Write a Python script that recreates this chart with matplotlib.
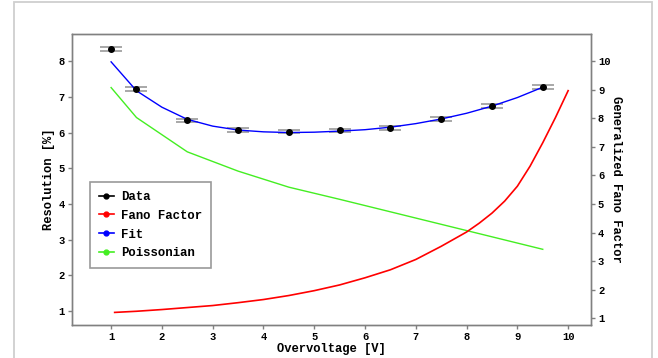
import numpy as np
import matplotlib
matplotlib.use("Agg")
import matplotlib.pyplot as plt
from matplotlib.lines import Line2D
from matplotlib.patches import Rectangle

# measured points
data_x = [1.0, 1.5, 2.5, 3.5, 4.5, 5.5, 6.5, 7.5, 8.5, 9.5]
data_y = [8.33, 7.22, 6.34, 6.07, 6.02, 6.06, 6.13, 6.38, 6.74, 7.28]
data_err = [0.055, 0.055, 0.05, 0.05, 0.04, 0.045, 0.045, 0.05, 0.05, 0.055]

# fit curve
fit_x = [1.0, 1.5, 2.0, 2.5, 3.0, 3.5, 4.0, 4.5, 5.0, 5.5, 6.0, 6.5, 7.0, 7.5, 8.0, 8.5, 9.0, 9.5]
fit_y = [7.98, 7.17, 6.71, 6.37, 6.18, 6.07, 6.02, 6.00, 6.01, 6.04, 6.08, 6.15, 6.25, 6.38, 6.54, 6.74, 6.98, 7.27]

# poissonian expectation
pois_x = [1.0, 1.5, 2.5, 3.5, 4.5, 5.5, 6.5, 7.5, 8.5, 9.5]
pois_y = [7.26, 6.42, 5.46, 4.92, 4.47, 4.13, 3.78, 3.43, 3.08, 2.73]

# generalized fano factor (right axis)
fano_x = [1.07, 1.5, 2.0, 2.5, 3.0, 3.5, 4.0, 4.5, 5.0, 5.5, 6.0, 6.5, 7.0, 7.5,
          8.0, 8.25, 8.5, 8.75, 9.0, 9.25, 9.5, 9.75, 10.0]
fano_y = [1.21, 1.25, 1.31, 1.38, 1.45, 1.55, 1.66, 1.80, 1.97, 2.17, 2.42, 2.70,
          3.06, 3.52, 4.02, 4.33, 4.68, 5.10, 5.62, 6.32, 7.14, 8.02, 8.96]

plt.rcParams['font.family'] = ['Liberation Mono', 'DejaVu Sans Mono']
plt.rcParams['font.weight'] = 'bold'
plt.rcParams['axes.labelweight'] = 'bold'

spine_col = '#808080'

fig = plt.figure(figsize=(6.58, 3.58), dpi=100)
ax = fig.add_axes([72 / 658, 1 - 325 / 358, 519 / 658, 291 / 358])
ax2 = ax.twinx()

ax.errorbar(data_x, data_y, yerr=data_err, fmt='none', ecolor='#9a9a9a',
            elinewidth=1.2, capsize=8, capthick=1.2, zorder=2)
ax.plot(fit_x, fit_y, color='blue', lw=1.0, zorder=3)
ax.plot(pois_x, pois_y, color='#44ee22', lw=1.0, zorder=3)
ax.plot(data_x, data_y, 'o', color='black', ms=4, zorder=4)
ax2.plot(fano_x, fano_y, color='red', lw=1.2)

ax.set_xlim(0.23, 10.45)
ax.set_ylim(0.61, 8.76)
ax2.set_ylim(0.77, 10.94)
ax.set_xticks(range(1, 11))
ax.set_yticks(range(1, 9))
ax2.set_yticks(range(1, 11))

for a in (ax, ax2):
    for s in a.spines.values():
        s.set_color(spine_col)
        s.set_linewidth(1.0)
    a.tick_params(colors=spine_col, labelcolor='black', labelsize=7.6,
                  length=3, width=1, pad=2)

ax.set_xlabel('Overvoltage [V]', fontsize=8.7, labelpad=1)
ax.set_ylabel('Resolution [%]', fontsize=8.7, labelpad=3)
ax2.set_ylabel('Generalized Fano Factor', fontsize=8.7, rotation=270, labelpad=8)

handles = [Line2D([], [], color=c, marker='o', ms=3.5, lw=1.2)
           for c in ['black', 'red', 'blue', '#44ee22']]
labels = ['Data', 'Fano Factor', 'Fit', 'Poissonian']
leg = ax.legend(handles, labels, loc='lower left', bbox_to_anchor=(0.035, 0.196),
                borderaxespad=0, fancybox=False, handlelength=1.2,
                handletextpad=0.6, labelspacing=0.55, borderpad=0.7,
                prop={'family': 'Liberation Mono', 'weight': 'bold', 'size': 8.9})
leg.get_frame().set_edgecolor(spine_col)
leg.get_frame().set_linewidth(1.2)

fig.patches.append(Rectangle((13.5 / 658, -0.1), (652 - 13.5) / 658, 1.1 - 1.5 / 358,
                             transform=fig.transFigure, fill=False,
                             edgecolor='#cfcfcf', lw=1.3))

fig.savefig('out.png', dpi=100)
